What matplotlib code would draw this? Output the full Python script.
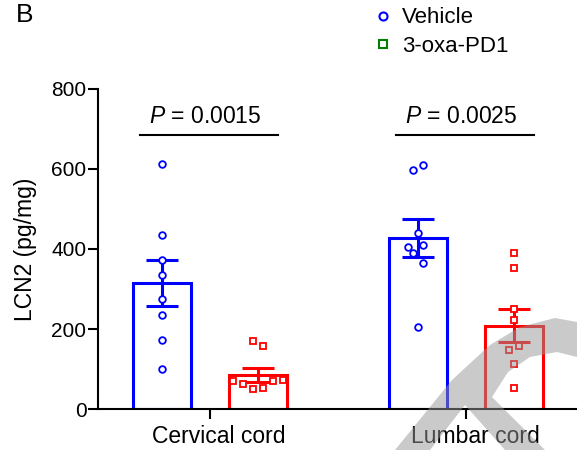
import numpy as np
import matplotlib
matplotlib.use('Agg')
import matplotlib.pyplot as plt
import matplotlib.transforms as mtransforms
from matplotlib.lines import Line2D
from matplotlib.patches import Polygon

plt.rcParams['font.family'] = ['Liberation Sans', 'DejaVu Sans']
plt.rcParams['mathtext.fontset'] = 'custom'
plt.rcParams['mathtext.it'] = 'Liberation Sans:italic'
plt.rcParams['mathtext.rm'] = 'Liberation Sans'

# data
groups = ['Cervical cord', 'Lumbar cord']
vehicle_mean = [315, 427]
vehicle_sem = [57, 47]
oxa_mean = [86, 209]
oxa_sem = [18, 41]

cerv_vehicle = [613, 435, 373, 334, 274, 236, 174, 101]
cerv_oxa = [171, 157, 71, 64, 50, 52, 71, 74]
lumb_vehicle = [598, 610, 439, 404, 409, 389, 364, 206]
lumb_oxa = [391, 353, 251, 222, 158, 148, 114, 52]

p_values = ['0.0015', '0.0025']

# horizontal scatter of the dots (x axis units)
jit_cv = [0, 0, 0, 0, 0, 0, 0, 0]
jit_co = [-0.02, 0.02, -0.098, -0.059, -0.02, 0.02, 0.059, 0.098]
jit_lv = [-0.02, 0.02, 0, -0.039, 0.02, -0.02, 0.02, 0]
jit_lo = [0, 0, 0, 0, 0.02, -0.02, 0, 0]

fig = plt.figure(figsize=(5.77, 4.5), dpi=100)
ax = fig.add_axes([97.5 / 577, 40.7 / 450, (577 - 97.5) / 577, 320.6 / 450])

x = np.arange(len(groups))
off = 0.1875
w = 0.23
blue = '#0000ff'
red = '#ff0000'

ax.bar(x - off, vehicle_mean, w, facecolor='white', edgecolor=blue, linewidth=2.2, zorder=2)
ax.bar(x + off, oxa_mean, w, facecolor='white', edgecolor=red, linewidth=2.2, zorder=2)
ax.errorbar(x - off, vehicle_mean, yerr=vehicle_sem, fmt='none', ecolor=blue,
            elinewidth=2.2, capsize=11.5, capthick=2.2, zorder=3)
ax.errorbar(x + off, oxa_mean, yerr=oxa_sem, fmt='none', ecolor=red,
            elinewidth=2.2, capsize=11.5, capthick=2.2, zorder=3)

pts = [(0 - off, cerv_vehicle, jit_cv, 'o', blue),
       (0 + off, cerv_oxa, jit_co, 's', red),
       (1 - off, lumb_vehicle, jit_lv, 'o', blue),
       (1 + off, lumb_oxa, jit_lo, 's', red)]
for cx, vals, jit, m, c in pts:
    ax.plot(cx + np.array(jit), vals, ls='none', marker=m, ms=4.8 if m == 'o' else 4.4,
            mfc='white', mec=c, mew=1.3, zorder=4)

# significance annotations
for i, p in enumerate(p_values):
    ax.plot([i - 0.275, i + 0.265], [685, 685], color='black', lw=1.5, clip_on=False)
    ax.text(i - 0.017, 715, '$P$ = ' + p, ha='center', va='baseline', fontsize=16.5)

ax.set_xlim(-0.4395, 1.4336)
ax.set_ylim(0, 800)
ax.set_yticks([0, 200, 400, 600, 800])
ax.set_xticks(x)
ax.set_xticklabels(groups, fontsize=16.5)
ax.set_ylabel('LCN2 (pg/mg)', fontsize=16.5, labelpad=10)
ax.tick_params(axis='both', width=1.5, length=7)
ax.tick_params(axis='y', pad=1, labelsize=15)
ax.tick_params(axis='x', pad=4)
shift = mtransforms.ScaledTranslation(0.09, 0, fig.dpi_scale_trans)
for lab in ax.get_xticklabels():
    lab.set_transform(lab.get_transform() + shift)
for s in ['top', 'right']:
    ax.spines[s].set_visible(False)
for s in ['left', 'bottom']:
    ax.spines[s].set_linewidth(1.5)

handles = [Line2D([], [], ls='none', marker='o', ms=5.8, mfc='white', mec=blue, mew=1.5),
           Line2D([], [], ls='none', marker='s', ms=5.4, mfc='white', mec='green', mew=1.5)]
fig.legend(handles, ['Vehicle', '3-oxa-PD1'], loc='upper left',
           bbox_to_anchor=(370 / 577, 1 - 3 / 450), frameon=False, fontsize=16,
           handlelength=0.8, handletextpad=0.45, labelspacing=0.33, borderpad=0.2,
           borderaxespad=0)

fig.text(16 / 577, 1 - 3 / 450, 'B', fontsize=19, va='top', ha='left')

# grey watermark in the lower right corner
wm = [(395, 450), (452, 380), (490, 345), (520, 327), (555, 318), (577, 322),
      (577, 357), (557, 352), (530, 357), (508, 372), (492, 397), (545, 450),
      (505, 450), (465, 405), (430, 450)]
wm = [(px / 577, 1 - py / 450) for px, py in wm]
fig.add_artist(Polygon(wm, closed=True, transform=fig.transFigure, facecolor='#969696',
                       edgecolor='none', alpha=0.5, zorder=10))

fig.savefig('out.png', dpi=100)
